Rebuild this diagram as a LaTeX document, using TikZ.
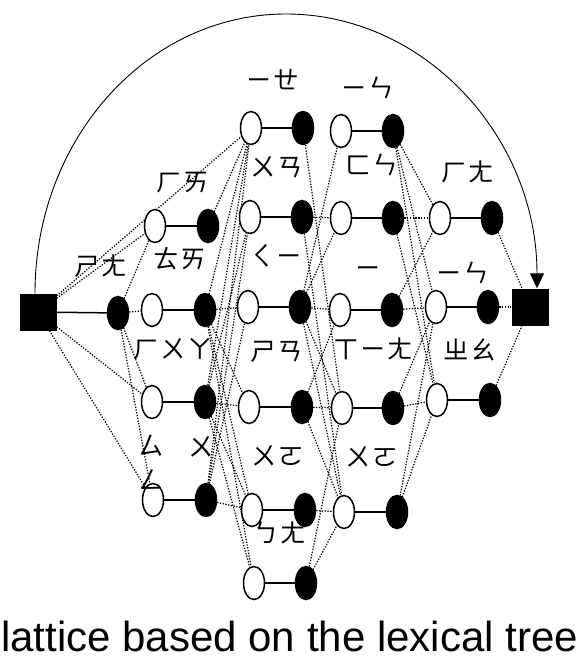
\documentclass[tikz,border=0pt]{standalone}
\usepackage{fontspec}
\setmainfont{Liberation Sans}
\newfontfamily\bpmf{Noto Sans CJK TC}
\usetikzlibrary{shapes.geometric,arrows.meta}
\pgfdeclarelayer{bg}
\pgfsetlayers{bg,main}
\newcommand\wpair[5]{%
  \node[wnode] (#1w) at (#2,#4) {};
  \node[bnode] (#1b) at (#3,#5) {};
  \draw[link] (#1w) -- (#1b);}
\newcommand\bsp{\hspace{1.5pt}}
\begin{document}
\begin{tikzpicture}[x=1pt,y=-1pt,
  wnode/.style={ellipse,draw=black,fill=white,line width=1.5pt,minimum width=21pt,minimum height=33pt,inner sep=0pt},
  bnode/.style={ellipse,draw=black,fill=black,line width=1.5pt,minimum width=21pt,minimum height=33pt,inner sep=0pt},
  sq/.style={rectangle,fill=black,minimum size=37pt,inner sep=0pt},
  link/.style={line width=1.5pt},
  latt/.style={line width=1.2pt,dash pattern=on 1.3pt off 1.5pt},
  lbl/.style={font=\bpmf\fontsize{25.5}{26}\selectfont,inner sep=0pt},
  captxt/.style={font=\fontsize{42}{43}\selectfont,inner sep=0pt,text depth=0pt,anchor=base west}
]
\useasboundingbox (0,0) rectangle (581,657);
% start and end
\node[sq] (S) at (38,312) {};
\node[sq] (E) at (530,307) {};
\node[bnode] (K) at (118,313) {};
\draw[link] (S) -- (K);
% column A
\wpair{A1}{155}{208}{226}{226}
\wpair{A2}{152}{205}{310}{310}
\wpair{A3}{152}{205}{402}{402}
\wpair{A4}{153}{206}{500}{500}
% column B
\wpair{B1}{251}{303}{128}{128}
\wpair{B2}{250}{302}{217}{217}
\wpair{B3}{248}{300}{307}{307}
\wpair{B4}{249}{302}{407}{407}
\wpair{B5}{252}{305}{510}{510}
\wpair{B6}{254}{306}{583}{583}
% column C
\wpair{C1}{341}{393}{131}{131}
\wpair{C2}{341}{393}{218}{218}
\wpair{C3}{340}{392}{310}{310}
\wpair{C4}{342}{393}{408}{408}
\wpair{C5}{344}{397}{512}{512}
% column D
\wpair{D1}{440}{492}{218}{218}
\wpair{D2}{436}{488}{307}{307}
\wpair{D3}{437}{490}{400}{400}
% dotted lattice connections
\begin{pgfonlayer}{bg}
\foreach \a/\b in {S/A1w,S/A3w,S/A4w,S/B1w,
  K/A1w,K/A2w,K/A3w,K/A4w,
  A1b/B1w,A2b/B1w,A2b/B3w,A2b/B4w,A2b/B5w,A2b/B6w,
  A3b/B1w,A3b/B2w,A3b/B4w,A3b/B5w,A3b/B6w,
  A4b/B1w,A4b/B2w,A4b/B3w,A4b/B5w,
  B1b/C4w,B2b/C2w,B2b/C5w,B3b/C1w,B3b/C2w,B3b/C3w,B3b/C4w,B3b/C5w,
  B4b/C3w,B4b/C4w,B4b/C5w,B5b/C5w,B6b/C4w,B6b/C5w,
  C1b/D1w,C1b/D2w,C1b/D3w,C2b/D1w,C2b/D3w,C3b/D1w,C3b/D2w,
  C4b/D2w,C4b/D3w,C5b/D2w,C5b/D3w,
  D1b/E,D2b/E,D3b/E}
  \draw[latt] (\a) -- (\b);
\end{pgfonlayer}
% long arc
\coordinate (top) at (286,14);
\draw[line width=0.9pt,-{Triangle[length=15pt,width=14pt]}]
  ([xshift=-3pt]S.north) .. controls +(0,-154) and +(-139,0) .. (top)
  .. controls +(139,0) and +(0,-151) .. ([xshift=7pt]E.north);
% labels
\node[lbl] (l0) at (101,266) {ㄕ\bsp ㄤ};
\node[lbl] (la1) at (183,183) {ㄏ\bsp ㄞ};
\node[lbl] (la2) at (180,259) {ㄊ\bsp ㄞ};
\node[lbl] (la3) at (173,349) {ㄏ\bsp ㄨ\bsp ㄚ};
\node[lbl] (la4a) at (151,446) {ㄙ};
\node[lbl] (la4b) at (201,447) {ㄨ};
\node[lbl] (la4c) at (151,480) {ㄥ};
\node[lbl] (lb1) at (273,80) {ㄧ\bsp ㄝ};
\node[lbl] (lb2) at (277,167) {ㄨ\bsp ㄢ};
\node[lbl] (lb3) at (276,256) {ㄑ\bsp ㄧ};
\node[lbl] (lb4) at (277,352) {ㄕ\bsp ㄢ};
\node[lbl] (lb5) at (278,456) {ㄨ\bsp ㄛ};
\node[lbl] (lb6) at (280,533) {ㄅ\bsp ㄤ};
\node[lbl] (lc1) at (368,88) {ㄧ\bsp ㄣ};
\node[lbl] (lc2) at (372,165) {ㄈ\bsp ㄣ};
\node[lbl] (lc3) at (368,272) {ㄧ};
\node[lbl] (lc4) at (373,349) {ㄒ\bsp ㄧ\bsp ㄤ};
\node[lbl] (lc5) at (372,457) {ㄨ\bsp ㄛ};
\node[lbl] (ld1) at (468,172) {ㄏ\bsp ㄤ};
\node[lbl] (ld2) at (463,273) {ㄧ\bsp ㄣ};
\node[lbl] (ld3) at (470,350) {ㄓ\bsp ㄠ};
% caption
\node[captxt] (caption) at (1,651) {lattice based on the lexical tree};
\end{tikzpicture}
\end{document}
